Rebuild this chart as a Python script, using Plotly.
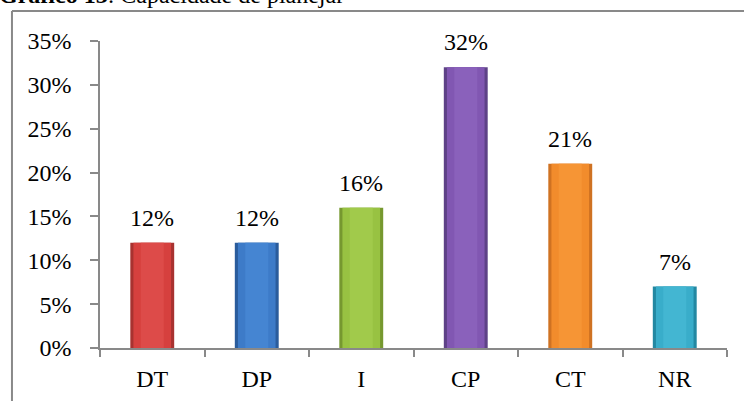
import plotly.graph_objects as go

# Data
categories = ["DT", "DP", "I", "CP", "CT", "NR"]
percent_values = [12, 12, 16, 32, 21, 7]
tick_values = [0, 0.05, 0.10, 0.15, 0.20, 0.25, 0.30, 0.35]
tick_labels = ["0%", "5%", "10%", "15%", "20%", "25%", "30%", "35%"]

# Per-bar shading: dark edge, body, lighter centre
edge_colors = ["#A83230", "#2A5C9C", "#76982F", "#5E4287", "#CF7222", "#2388A2"]
body_colors = ["#D6403E", "#3D7BC8", "#98C242", "#8157B2", "#F28C2C", "#39ADCA"]
center_colors = ["#DD4B49", "#4585D2", "#A1CA4B", "#8A61BB", "#F69535", "#43B6D2"]

font_family = "Liberation Serif"
fractions = [v / 100 for v in percent_values]

fig = go.Figure()
for colors, width in ((edge_colors, 0.42), (body_colors, 0.36), (center_colors, 0.22)):
    fig.add_trace(go.Bar(
        x=categories, y=fractions, width=width,
        marker=dict(color=colors, line=dict(width=0)),
        hoverinfo="skip", showlegend=False,
    ))

# Value labels above each bar
for cat, v in zip(categories, percent_values):
    fig.add_annotation(
        x=cat, y=v / 100, text=f"{v}%", showarrow=False,
        yanchor="bottom", yshift=10,
        font=dict(family=font_family, size=24, color="black"),
    )

# Chart title (Word-style caption)
fig.add_annotation(
    x=-0.165, y=1.1, xref="paper", yref="paper",
    xanchor="left", yanchor="bottom", showarrow=False,
    text="<b>Gráfico 13</b>: Capacidade de planejar",
    font=dict(family=font_family, size=24, color="black"),
)

# Chart-area border (left and top edges)
border = dict(color="#898989", width=2)
fig.add_shape(type="line", xref="paper", yref="paper",
              x0=-0.1404, x1=-0.1404, y0=-0.2, y1=1.0977, line=border)
fig.add_shape(type="line", xref="paper", yref="paper",
              x0=-0.1404, x1=1.05, y0=1.0977, y1=1.0977, line=border)

fig.update_layout(
    width=744, height=401,
    margin=dict(l=100, r=17, t=41, b=53, autoexpand=False),
    barmode="overlay",
    plot_bgcolor="white", paper_bgcolor="white",
    font=dict(family=font_family, size=24, color="black"),
)
fig.update_xaxes(
    type="category", showgrid=False, automargin=False,
    showline=True, linecolor="#898989", linewidth=1.5,
    ticks="outside", tickson="boundaries", ticklen=7, tickcolor="#898989",
    tickwidth=1.5, ticklabelstandoff=8, tickfont=dict(size=24),
)
fig.update_yaxes(
    range=[0, 0.35], tickvals=tick_values, ticktext=tick_labels,
    showgrid=False, zeroline=False, automargin=False,
    showline=True, linecolor="#898989", linewidth=1.5,
    ticks="outside", ticklen=8, tickcolor="#898989", tickwidth=1.5,
    ticklabelstandoff=14, tickfont=dict(size=24),
)

fig.write_html("out.html")
